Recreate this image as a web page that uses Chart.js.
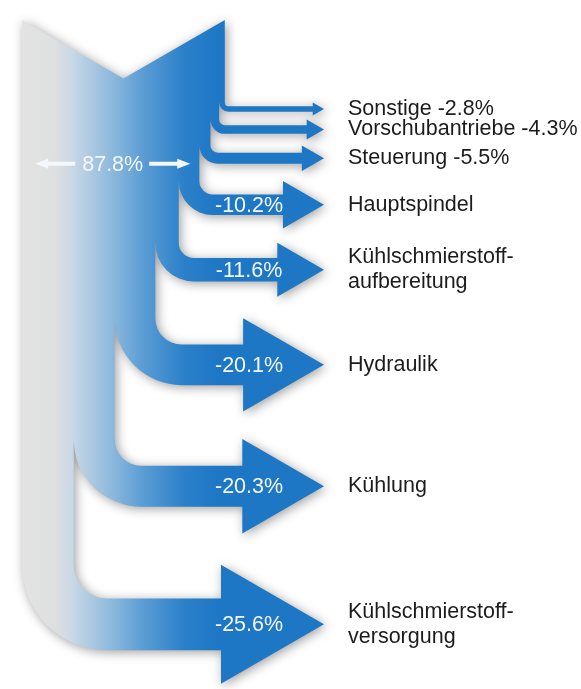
<!DOCTYPE html>
<html lang="de">
  <head>
    <meta charset="utf-8" />
    <title>Energieverteilung</title>
    <script src="https://cdn.jsdelivr.net/npm/chart.js"></script>
    <style>
      html,
      body {
        margin: 0;
        padding: 0;
        background: #fff;
      }
      canvas {
        display: block;
      }
    </style>
  </head>
  <body>
    <canvas id="flowChart" width="581" height="689"></canvas>

    <script>
      // Verbraucher von oben nach unten
      const consumers = [
        "Sonstige",
        "Vorschubantriebe",
        "Steuerung",
        "Hauptspindel",
        "Kühlschmierstoff-\naufbereitung",
        "Hydraulik",
        "Kühlung",
        "Kühlschmierstoff-\nversorgung",
      ];
      // Anteil am Gesamtverbrauch in %
      const shares = [2.8, 4.3, 5.5, 10.2, 11.6, 20.1, 20.3, 25.6];

      // arrows thinner than this get their value next to the name
      const inlineMin = 8;

      // layout, all in % units of the axes
      const tipX = 149.5; // arrow tips
      const nameX = 161.4; // names on the right
      const valueX = 112.4; // white values inside the arrows
      const firstY = 44.06; // centre of the first arrow
      const headScale = 2.3; // arrowhead height / arrow thickness

      const total = shares.reduce((a, b) => a + b, 0);
      const narrow = shares.filter((v) => v < inlineMin);
      const remaining = total - narrow.reduce((a, b) => a + b, 0);

      // arrow centres: spacing grows with the neighbouring thicknesses
      const centers = [];
      shares.forEach((v, i) => {
        centers.push(
          i === 0 ? firstY : centers[i - 1] + 1.5 * (shares[i - 1] + v) - 0.5
        );
      });

      const font = "21.5px 'Liberation Sans', Arial, sans-serif";

      function drawArrow(ctx, x0, x1, y) {
        const dir = Math.sign(x1 - x0);
        ctx.beginPath();
        ctx.moveTo(x0, y);
        ctx.lineTo(x1 - dir * 10, y);
        ctx.lineWidth = 4;
        ctx.stroke();
        ctx.beginPath();
        ctx.moveTo(x1, y);
        ctx.lineTo(x1 - dir * 13, y - 5);
        ctx.lineTo(x1 - dir * 13, y + 5);
        ctx.closePath();
        ctx.fill();
      }

      const flowPlugin = {
        id: "flow",
        afterDraw(chart) {
          const ctx = chart.ctx;
          const x = chart.scales.x;
          const y = chart.scales.y;
          const px = (u) => x.getPixelForValue(u);
          const py = (u) => y.getPixelForValue(u);
          const unit = px(1) - px(0);
          const notch = (total / 2) * Math.tan(Math.PI / 6);

          const grad = ctx.createLinearGradient(px(0), 0, px(total), 0);
          grad.addColorStop(0, "#e3e3e3");
          grad.addColorStop(0.17, "#dedfe0");
          grad.addColorStop(0.24, "#cbd9e6");
          grad.addColorStop(0.47, "#84b4db");
          grad.addColorStop(0.6, "#5a9cd4");
          grad.addColorStop(0.8, "#2b80c9");
          grad.addColorStop(0.95, "#1f78c6");
          grad.addColorStop(1, "#1e77c5");

          ctx.save();
          ctx.beginPath();
          // trunk with the notch on top
          ctx.moveTo(px(0), py(0));
          ctx.lineTo(px(total / 2), py(notch));
          ctx.lineTo(px(total), py(0));
          ctx.lineTo(px(total), py(notch + 3));
          ctx.lineTo(px(0), py(notch + 3));
          ctx.closePath();

          // each consumer peels off the right side and bends into an arrow
          let right = total;
          shares.forEach((v, i) => {
            const left = right - v;
            const t = v * unit;
            const L = px(left);
            const R = px(right);
            const yc = py(centers[i]);
            const top = yc - t / 2;
            const bot = yc + t / 2;
            const ri = 0.65 * t;
            const ro = ri + t;
            const headH = headScale * t;
            const tip = px(tipX);
            const base = tip - (headH * Math.sqrt(3)) / 2;

            ctx.moveTo(L, py(notch));
            ctx.lineTo(R, py(notch));
            ctx.lineTo(R, top - ri);
            ctx.arc(R + ri, top - ri, ri, Math.PI, Math.PI / 2, true);
            ctx.lineTo(base, top);
            ctx.lineTo(base, yc - headH / 2);
            ctx.lineTo(tip, yc);
            ctx.lineTo(base, yc + headH / 2);
            ctx.lineTo(base, bot);
            ctx.lineTo(L + ro, bot);
            ctx.arc(L + ro, bot - ro, ro, Math.PI / 2, Math.PI, false);
            ctx.closePath();
            right = left;
          });

          ctx.fillStyle = grad;
          ctx.shadowColor = "rgba(0, 0, 0, 0.38)";
          ctx.shadowBlur = 11;
          ctx.shadowOffsetX = 2;
          ctx.shadowOffsetY = 2;
          ctx.fill("nonzero");
          ctx.restore();

          // labels
          ctx.save();
          ctx.font = font;
          ctx.textBaseline = "middle";
          shares.forEach((v, i) => {
            const yc = py(centers[i]);
            const value = "-" + v.toFixed(1) + "%";
            let lines = consumers[i].split("\n");
            if (v < inlineMin) {
              lines[lines.length - 1] += " " + value;
            } else {
              ctx.fillStyle = "#f4f7fb";
              ctx.textAlign = "center";
              ctx.fillText(value, px(valueX), yc + 1);
            }
            ctx.fillStyle = "#1c1c1c";
            ctx.textAlign = "left";
            lines.forEach((line, k) => {
              const dy = (k - (lines.length - 1) / 2) * 25;
              ctx.fillText(line, px(nameX), yc + dy);
            });
          });

          // width of the trunk after the narrow consumers have left
          const ly = py(centers[narrow.length - 1] + narrow[narrow.length - 1] / 2);
          const x0 = px(6.5);
          const x1 = px(remaining - 4.5);
          const mid = (x0 + x1) / 2;
          const text = remaining.toFixed(1) + "%";
          const half = ctx.measureText(text).width / 2;
          ctx.fillStyle = "#f4f7fb";
          ctx.strokeStyle = "#f4f7fb";
          ctx.textAlign = "center";
          ctx.fillText(text, mid, ly + 1);
          drawArrow(ctx, mid - half - 7, x0, ly);
          drawArrow(ctx, mid + half + 6, x1, ly);
          ctx.restore();
        },
      };

      new Chart(document.getElementById("flowChart"), {
        type: "scatter",
        data: { datasets: [] },
        options: {
          responsive: false,
          animation: false,
          layout: { padding: 0 },
          plugins: {
            legend: { display: false },
            tooltip: { enabled: false },
          },
          scales: {
            x: { type: "linear", display: false, min: -10.891, max: 276.733 },
            y: {
              type: "linear",
              display: false,
              reverse: true,
              min: -9.901,
              max: 331.188,
            },
          },
        },
        plugins: [flowPlugin],
      });
    </script>
  </body>
</html>
